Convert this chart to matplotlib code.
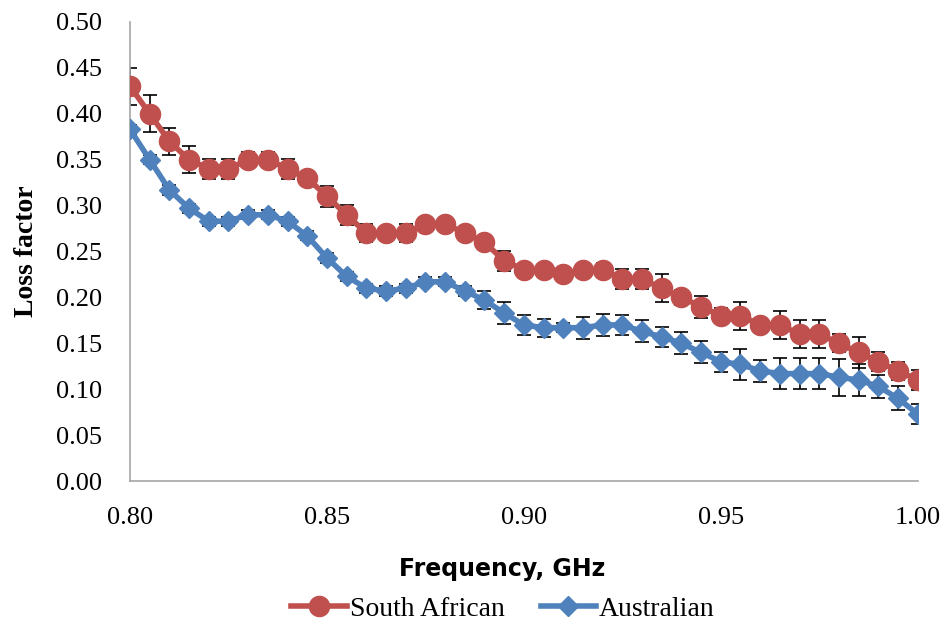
import numpy as np
import matplotlib.pyplot as plt

# frequency points, GHz
freq = np.round(np.arange(0.800, 1.0001, 0.005), 3)

south_african = [0.43, 0.40, 0.37, 0.35, 0.34, 0.34, 0.35, 0.35, 0.34, 0.33,
                 0.31, 0.29, 0.27, 0.27, 0.27, 0.28, 0.28, 0.27, 0.26, 0.24,
                 0.23, 0.23, 0.225, 0.23, 0.23, 0.22, 0.22, 0.21, 0.20, 0.19,
                 0.18, 0.18, 0.17, 0.17, 0.16, 0.16, 0.15, 0.14, 0.13, 0.12,
                 0.11]
south_african_err = [0.02, 0.02, 0.015, 0.015, 0.011, 0.011, 0.008, 0.008, 0.011, 0.005,
                     0.011, 0.011, 0.01, 0.005, 0.01, 0.005, 0.005, 0.005, 0.005, 0.011,
                     0.006, 0.005, 0.005, 0.005, 0.008, 0.011, 0.011, 0.015, 0.008, 0.012,
                     0.008, 0.015, 0.005, 0.015, 0.015, 0.015, 0.01, 0.017, 0.01, 0.01,
                     0.011]

australian = [0.383, 0.35, 0.317, 0.297, 0.283, 0.283, 0.29, 0.29, 0.283, 0.267,
              0.243, 0.223, 0.21, 0.207, 0.21, 0.217, 0.217, 0.207, 0.197, 0.183,
              0.17, 0.167, 0.167, 0.167, 0.17, 0.17, 0.163, 0.157, 0.15, 0.14,
              0.13, 0.127, 0.12, 0.117, 0.117, 0.117, 0.113, 0.11, 0.103, 0.09,
              0.073]
australian_err = [0.005, 0.005, 0.005, 0.005, 0.005, 0.005, 0.005, 0.005, 0.005, 0.005,
                  0.005, 0.005, 0.005, 0.005, 0.005, 0.005, 0.005, 0.005, 0.01, 0.012,
                  0.011, 0.01, 0.005, 0.012, 0.012, 0.011, 0.012, 0.011, 0.012, 0.012,
                  0.011, 0.017, 0.012, 0.017, 0.017, 0.017, 0.02, 0.017, 0.013, 0.013,
                  0.011]

red = '#C0504D'
blue = '#4F81BD'
serif = ['Liberation Serif', 'DejaVu Serif']

fig = plt.figure(figsize=(9.49, 6.25), dpi=100)
ax = fig.add_axes([0.137, 0.2304, 0.83, 0.7344])

# error bars behind the lines
ax.errorbar(freq, south_african, yerr=south_african_err, fmt='none', ecolor='black',
            elinewidth=1.2, capsize=5, capthick=1.2, zorder=1)
ax.errorbar(freq, australian, yerr=australian_err, fmt='none', ecolor='black',
            elinewidth=1.2, capsize=5, capthick=1.2, zorder=1)

ax.plot(freq, south_african, color=red, lw=4, marker='o', ms=14.5,
        label='South African', zorder=3)
ax.plot(freq, australian, color=blue, lw=4, marker='D', ms=10.5,
        label='Australian', zorder=3)

ax.set_xlim(0.80, 1.00)
ax.set_ylim(0, 0.50)
ax.set_xticks(np.arange(0.80, 1.001, 0.05))
ax.set_yticks(np.arange(0, 0.501, 0.05))
ax.set_xticklabels(['%.2f' % v for v in np.arange(0.80, 1.001, 0.05)])
ax.set_yticklabels(['%.2f' % v for v in np.arange(0, 0.501, 0.05)])
for lab in ax.get_xticklabels() + ax.get_yticklabels():
    lab.set_family(serif)
    lab.set_fontsize(19)

ax.tick_params(axis='y', length=0, pad=20)
ax.tick_params(axis='x', length=0, pad=19)
for s in ['top', 'right']:
    ax.spines[s].set_visible(False)
for s in ['left', 'bottom']:
    ax.spines[s].set_color('#A6A6A6')
    ax.spines[s].set_linewidth(1.2)

ax.set_ylabel('Loss factor', family=serif, fontsize=20, fontweight='bold', labelpad=12)
ax.set_xlabel('Frequency, GHz', family=['Liberation Sans Narrow', 'DejaVu Sans'],
              fontsize=17, fontweight='bold')
ax.xaxis.set_label_coords(0.472, -0.165)

fig.legend(loc='lower center', bbox_to_anchor=(0.53, -0.035), ncol=2, frameon=False,
           prop={'family': serif, 'size': 20}, handlelength=2.0, handletextpad=0.1,
           columnspacing=1.3)

fig.savefig('out.png', dpi=100)
